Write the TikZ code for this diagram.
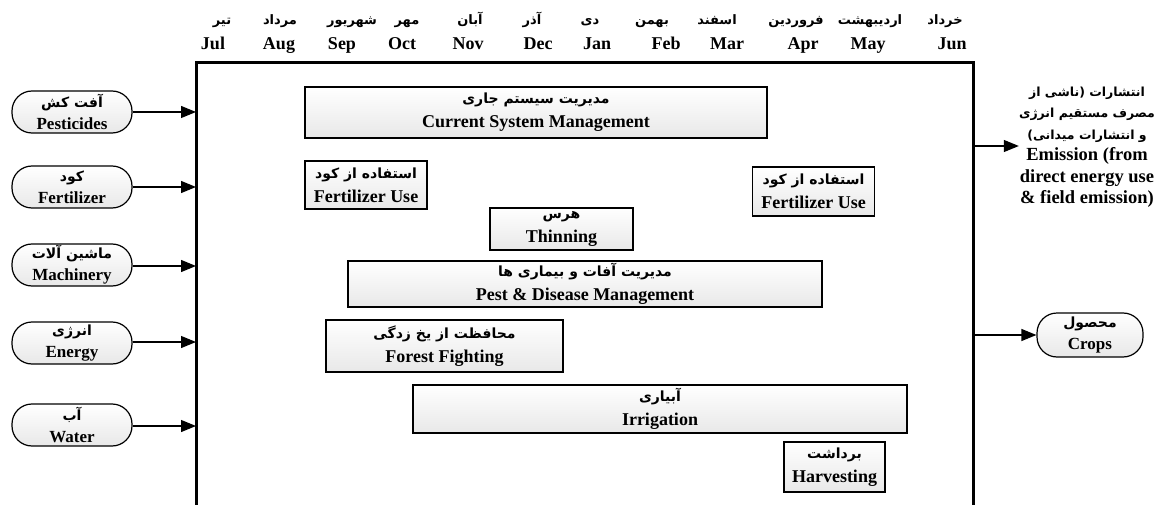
\documentclass[tikz,border=0pt]{standalone}
\usepackage{fontspec}
\setmainfont{Liberation Serif}
\newfontfamily\farsifont[Script=Arabic]{DejaVu Sans}
\TeXXeTstate=1
\usetikzlibrary{arrows.meta}
\def\pnsize{14}
\newcommand\pn[1]{{\farsifont\bfseries\fontsize{\pnsize}{22}\selectfont\beginR #1\endR}}
\tikzset{
  act/.style={draw, line width=1.2pt, top color=white, bottom color=gray!18, align=center, inner sep=0pt,
    font=\bfseries\fontsize{18}{24}\selectfont},
  inp/.style={draw, line width=1.2pt, rounded corners=20pt, top color=white, bottom color=gray!18, align=center,
    minimum width=120pt, minimum height=42pt, inner sep=0pt, font=\bfseries\fontsize{17}{22}\selectfont},
  arr/.style={line width=1.2pt, -{Triangle[length=15pt,width=12pt]}},
  mfa/.style={font=\fontsize{13}{14}\selectfont, inner sep=0pt, anchor=base},
  men/.style={font=\bfseries\fontsize{18}{20}\selectfont, inner sep=0pt, anchor=base},
  frame/.style={line width=3pt}
}
\begin{document}
\begin{tikzpicture}[x=1pt,y=-1pt]
\useasboundingbox (0,0) rectangle (1159,505);
% frame
\draw[frame] (196,505) -- (196,63) -- (973,63) -- (973,505);
% months
\foreach \n/\xf/\xe/\fa/\en in {
  1/222/213/تیر/Jul, 2/280/279/مرداد/Aug, 3/352/342/شهریور/Sep, 4/407/402/مهر/Oct,
  5/470/468/آبان/Nov, 6/532/538/آذر/Dec, 7/590/597/دی/Jan, 8/652/666/بهمن/Feb,
  9/717/727/اسفند/Mar, 10/796/803/فروردین/Apr, 11/870/868/اردیبهشت/May, 12/945/952/خرداد/Jun}{
  \node[mfa] (mf\n) at (\xf,25) {\def\pnsize{13}\pn{\fa}};
  \node[men] (me\n) at (\xe,50) {\en};
}
% frame anchor coordinates
\coordinate (fl1) at (196,112);
\coordinate (fl2) at (196,187);
\coordinate (fl3) at (196,266);
\coordinate (fl4) at (196,342);
\coordinate (fl5) at (196,426);
\coordinate (fr1) at (973,146);
\coordinate (fr2) at (973,335);
% inputs
\node[inp] (pest) at (72,112) {\pn{آفت کش}\\Pesticides};
\node[inp] (fert) at (72,187) {\pn{کود}\\Fertilizer};
\node[inp] (mach) at (72,265) {\pn{ماشین آلات}\\Machinery};
\node[inp] (ener) at (72,343) {\pn{انرژی}\\Energy};
\node[inp] (watr) at (72,425) {\pn{آب}\\Water};
\draw[arr] (pest.east |- fl1) -- (fl1);
\draw[arr] (fert.east |- fl2) -- (fl2);
\draw[arr] (mach.east |- fl3) -- (fl3);
\draw[arr] (ener.east |- fl4) -- (fl4);
\draw[arr] (watr.east |- fl5) -- (fl5);
% outputs
\node[align=center, inner sep=0pt, font=\bfseries\fontsize{18.5}{21.5}\selectfont] (emis) at (1087,147)
  {\def\pnsize{12.5}\pn{انتشارات (ناشی از}\\\def\pnsize{12.5}\pn{مصرف مستقیم انرژی}\\\def\pnsize{12.5}\pn{و انتشارات میدانی)}\\Emission (from\\direct energy use\\\& field emission)};
\node[inp, minimum width=106pt, minimum height=44pt] (crop) at (1090,335) {\pn{محصول}\\Crops};
\draw[arr] (fr1) -- (fr1 -| emis.west);
\draw[arr] (fr2) -- (crop.west);
% activities
\node[act, minimum width=462pt, minimum height=51pt] (csm) at (536,112.5) {\pn{مدیریت سیستم جاری}\\Current System Management};
\node[act, minimum width=122pt, minimum height=48pt] (fu1) at (366,185) {\pn{استفاده از کود}\\Fertilizer Use};
\node[act, minimum width=122pt, minimum height=49pt] (fu2) at (813.5,191.5) {\pn{استفاده از کود}\\Fertilizer Use};
\node[act, minimum width=143pt, minimum height=42pt] (thin) at (561.5,229) {\pn{هرس}\\Thinning};
\node[act, minimum width=474pt, minimum height=46pt] (pdm) at (585,284) {\pn{مدیریت آفات و بیماری ها}\\Pest \& Disease Management};
\node[act, minimum width=237pt, minimum height=52pt] (ff) at (444.5,346) {\pn{محافظت از یخ زدگی}\\Forest Fighting};
\node[act, minimum width=494pt, minimum height=48pt] (irr) at (660,409) {\pn{آبیاری}\\Irrigation};
\node[act, minimum width=101pt, minimum height=50pt] (harv) at (834.5,467) {\pn{برداشت}\\Harvesting};
\end{tikzpicture}
\end{document}
